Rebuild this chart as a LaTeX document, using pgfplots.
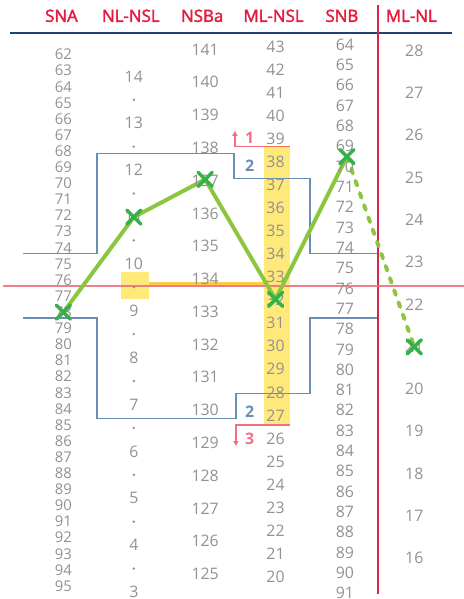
\documentclass[border=0pt]{standalone}
\usepackage{fontspec}
\setmainfont{Open Sans}
\newfontfamily\headfam[FakeBold=2.2]{Open Sans}
\usepackage{pgfplots}
\pgfplotsset{compat=1.18}
\usetikzlibrary{arrows.meta}
\definecolor{numgray}{RGB}{145,145,145}
\definecolor{headred}{RGB}{228,28,62}
\definecolor{vred}{RGB}{218,36,70}
\definecolor{hpink}{RGB}{240,112,128}
\definecolor{mpink}{RGB}{240,112,132}
\definecolor{bandblue}{RGB}{104,142,180}
\definecolor{navy}{RGB}{30,68,110}
\definecolor{hiyellow}{RGB}{255,233,122}
\definecolor{lineyellow}{RGB}{250,204,72}
\definecolor{orangeln}{RGB}{240,120,80}
\definecolor{polygreen}{RGB}{140,198,63}
\definecolor{xgreen}{RGB}{56,176,72}
\newcommand{\numfont}{\fontsize{16bp}{16bp}\selectfont}
\newcommand{\snafont}{\fontsize{15bp}{15bp}\selectfont}
\newcommand{\headfont}{\headfam\fontsize{17bp}{17bp}\selectfont}
\begin{document}
\begin{tikzpicture}
\begin{axis}[
  width=468bp, height=599bp, scale only axis,
  xmin=0, xmax=468, ymin=0, ymax=599, y dir=reverse,
  hide axis,
  lbl/.style={draw=none, mark=none, nodes near coords, point meta=explicit symbolic,
    every node near coord/.append style={anchor=center, inner sep=0pt, font=\numfont, text=numgray}},
]
\path (axis cs:0,0) rectangle (axis cs:468,599);
% yellow highlights
\addplot[fill=hiyellow, draw=none] coordinates {(266,148) (293,148) (293,429) (266,429)} -- cycle;
\addplot[fill=hiyellow, draw=none] coordinates {(122,274) (150,274) (150,302) (122,302)} -- cycle;
\addplot[lineyellow, line width=4bp] coordinates {(150,287) (266,287)};
% SNA
\addplot[lbl, every node near coord/.append style={font=\snafont}] table[x expr=64, y expr={55+(\thisrow{v}-62)*16.25}, meta=v, row sep=\\] {v\\62\\63\\64\\65\\66\\67\\68\\69\\70\\71\\72\\73\\74\\75\\76\\77\\78\\79\\80\\81\\82\\83\\84\\85\\86\\87\\88\\89\\90\\91\\92\\93\\94\\95\\};
% NL-NSL
\addplot[lbl] table[x expr=135, y expr={77+(14-\thisrow{v})*47.3}, meta=v, row sep=\\] {v\\14\\13\\12\\11\\10\\9\\8\\7\\6\\5\\4\\3\\};
\addplot[only marks, mark=*, mark size=1bp, numgray] table[x expr=135, y expr={77+(14-\thisrow{v})*47.3}, row sep=\\] {v\\13.5\\12.5\\11.5\\10.5\\9.5\\8.5\\7.5\\6.5\\5.5\\4.5\\3.5\\};
% NSBa
\addplot[lbl] table[x expr=207, y expr={50+(141-\thisrow{v})*33.06}, meta=v, row sep=\\] {v\\141\\140\\139\\138\\137\\136\\135\\134\\133\\132\\131\\130\\129\\128\\127\\126\\125\\};
% ML-NSL
\addplot[lbl] table[x expr=278, y expr={47+(43-\thisrow{v})*23.26}, meta=v, row sep=\\] {v\\43\\42\\41\\40\\39\\38\\37\\36\\35\\34\\33\\32\\31\\30\\29\\28\\27\\26\\25\\24\\23\\22\\21\\20\\19\\};
% SNB
\addplot[lbl] table[x expr=348, y expr={45+(\thisrow{v}-64)*20.5}, meta=v, row sep=\\] {v\\64\\65\\66\\67\\68\\69\\70\\71\\72\\73\\74\\75\\76\\77\\78\\79\\80\\81\\82\\83\\84\\85\\86\\87\\88\\89\\90\\91\\};
% ML-NL
\addplot[lbl] table[x expr=418, y expr={51+(28-\thisrow{v})*42.67}, meta=v, row sep=\\] {v\\28\\27\\26\\25\\24\\23\\22\\21\\20\\19\\18\\17\\16\\};
% norm bands
\addplot[bandblue, line width=1.5bp] coordinates {(23,256) (98,256) (98,155) (236,155) (236,180) (313,180) (313,256) (382,256)};
\addplot[bandblue, line width=1.5bp] coordinates {(23,321) (98,321) (98,422) (238,422) (238,397) (313,397) (313,321) (382,321)};
\node[font=\bfseries\numfont, text=bandblue] at (axis cs:252,167) {2};
\node[font=\bfseries\numfont, text=bandblue] at (axis cs:252,415) {2};
% pink markers
\addplot[orangeln, line width=1.5bp] coordinates {(266,148) (293,148)};
\addplot[mpink, line width=1.5bp, -{Triangle[length=5bp,width=5bp]}] coordinates {(266,148) (237,148) (237,132)};
\addplot[mpink, line width=1.5bp, -{Triangle[length=5bp,width=5bp]}] coordinates {(293,429) (238,429) (238,450)};
\node[font=\bfseries\numfont, text=mpink] at (axis cs:252,139) {1};
\node[font=\bfseries\numfont, text=mpink] at (axis cs:252,443) {3};
% header
\node[font=\headfont, text=headred] at (axis cs:62,16) {SNA};
\node[font=\headfont, text=headred] at (axis cs:132,16) {NL-NSL};
\node[font=\headfont, text=headred] at (axis cs:204,16) {NSBa};
\node[font=\headfont, text=headred] at (axis cs:276,16) {ML-NSL};
\node[font=\headfont, text=headred] at (axis cs:345,16) {SNB};
\node[font=\headfont, text=headred] at (axis cs:415,16) {ML-NL};
\addplot[navy, line width=2bp] coordinates {(10,33) (456,33)};
\addplot[vred, line width=2bp] coordinates {(381,5) (381,599)};
\addplot[hpink, line width=2bp, opacity=0.9] coordinates {(3,289) (468,289)};
% patient polygon
\addplot[polygreen, line width=4bp, line join=round, line cap=round] coordinates {(64,315) (135,219) (207,181) (278,302) (350,158)};
\addplot[polygreen, line width=4bp, line cap=round, dash pattern=on 5bp off 8bp] coordinates {(350,158) (418,350)};
\addplot[only marks, mark=x, mark size=10bp, xgreen, mark options={line width=3.5bp, line cap=round}] coordinates {(64,315) (135,219) (207,181) (278,302) (350,158) (418,350)};
\end{axis}
\end{tikzpicture}
\end{document}
